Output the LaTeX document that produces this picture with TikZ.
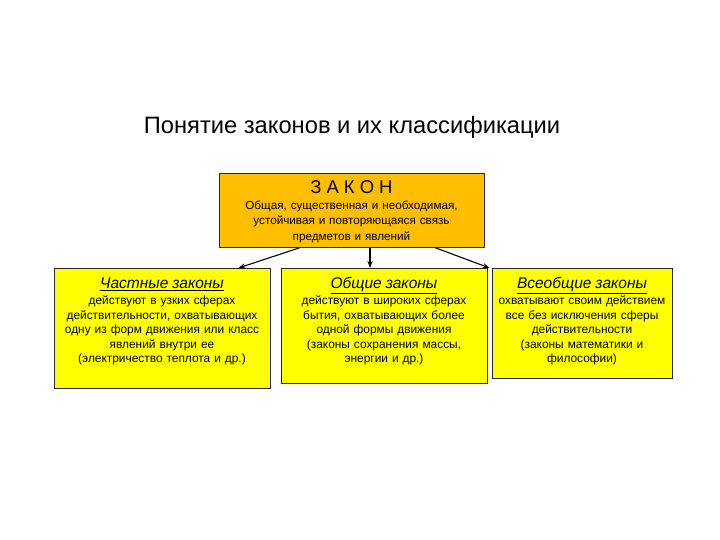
\documentclass[tikz,border=0pt]{standalone}
\usepackage{fontspec}
\setmainfont{Liberation Sans}
\usetikzlibrary{arrows.meta}

\definecolor{laworange}{RGB}{255,190,0}
\definecolor{lawyellow}{RGB}{255,255,0}
\definecolor{lawborder}{RGB}{40,40,40}

\newcommand{\lawheadfont}{\fontsize{15.5}{16}\selectfont\itshape}

\tikzset{
    lawbox/.style={draw=lawborder, line width=0.8pt, fill=lawyellow, anchor=north,
        align=center, inner sep=0pt, font=\fontsize{11.9}{14.6}\selectfont},
    lawarrow/.style={-{Stealth[length=7pt,width=5pt]}, line width=1.1pt, black},
}

\begin{document}
\begin{tikzpicture}[x=1pt, y=-1pt]
    \useasboundingbox (0,0) rectangle (720,540);

    \node[font=\fontsize{23.7}{26}\selectfont] (title) at (352,127)
        {Понятие законов и их классификации};

    % main box
    \node[lawbox, fill=laworange, text width=265pt, text depth=53.5pt,
          font=\fontsize{11.7}{15.5}\selectfont] (zakon) at (351.5,173)
        {\rule{0pt}{20.5pt}{\fontsize{18.5}{20}\selectfont З\hspace{5pt}А\hspace{5pt}К\hspace{5pt}О\hspace{5pt}Н}\\
         Общая, существенная и необходимая,\\
         устойчивая и повторяющаяся связь\\
         предметов и явлений};

    % three kinds of laws
    \node[lawbox, text width=216pt, text depth=100pt] (chast) at (162,268)
        {\rule{0pt}{20pt}{\lawheadfont\underline{Частные законы}}\\[1.4pt]
         действуют в узких сферах\\
         действительности, охватывающих\\
         одну из форм движения или класс\\
         явлений внутри ее\\
         (электричество теплота и др.)};
    \node[lawbox, text width=206pt, text depth=95pt] (obsh) at (384,268)
        {\rule{0pt}{20pt}{\lawheadfont\underline{Общие законы}}\\[1.4pt]
         действуют в широких сферах\\
         бытия, охватывающих более\\
         одной формы движения\\
         (законы сохранения массы,\\
         энергии и др.)};
    \node[lawbox, text width=180pt, text depth=90pt] (vseobsh) at (582,268)
        {\rule{0pt}{20pt}{\lawheadfont\underline{Всеобщие законы}}\\[1.4pt]
         охватывают своим действием\\
         все без исключения сферы\\
         действительности\\
         (законы математики и\\
         философии)};

    \draw[lawarrow] ([xshift=81pt]zakon.south west) -- ([xshift=-32pt]chast.north east);
    \draw[lawarrow] ([xshift=18.5pt]zakon.south) -- ([xshift=-14pt]obsh.north);
    \draw[lawarrow] ([xshift=-49pt]zakon.south east) -- ([xshift=-2pt]vseobsh.north west);
\end{tikzpicture}
\end{document}
